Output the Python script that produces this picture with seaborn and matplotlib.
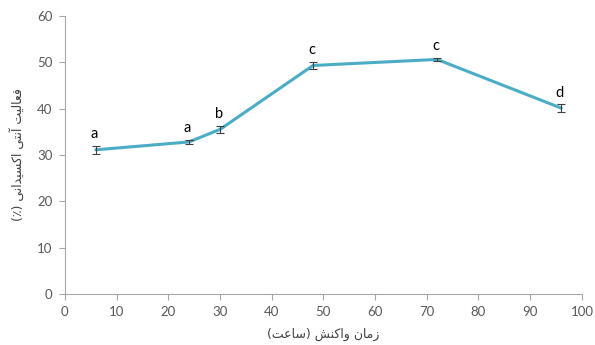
import numpy as np
import pandas as pd
import matplotlib
matplotlib.use('Agg')
import matplotlib.pyplot as plt
import seaborn as sns

# data
hours = [6, 24, 30, 48, 72, 96]
activity = [31.1, 32.8, 35.5, 49.3, 50.6, 40.1]
err = [0.8, 0.4, 0.8, 0.8, 0.4, 0.8]
groups = ['a', 'a', 'b', 'c', 'c', 'd']

xlabel_fa = 'زمان واکنش (ساعت)'
ylabel_fa = 'فعالیت آنتی اکسیدانی (٪)'

# small persian shaper (matplotlib does no arabic shaping / bidi)
forms = {
    'ا': ('\uFE8D', '\uFE8E', None, None),
    'آ': ('\uFE81', '\uFE82', None, None),
    'د': ('\uFEA9', '\uFEAA', None, None),
    'ز': ('\uFEAF', '\uFEB0', None, None),
    'و': ('\uFEED', '\uFEEE', None, None),
    'ت': ('\uFE95', '\uFE96', '\uFE97', '\uFE98'),
    'س': ('\uFEB1', '\uFEB2', '\uFEB3', '\uFEB4'),
    'ش': ('\uFEB5', '\uFEB6', '\uFEB7', '\uFEB8'),
    'ع': ('\uFEC9', '\uFECA', '\uFECB', '\uFECC'),
    'ف': ('\uFED1', '\uFED2', '\uFED3', '\uFED4'),
    'ل': ('\uFEDD', '\uFEDE', '\uFEDF', '\uFEE0'),
    'م': ('\uFEE1', '\uFEE2', '\uFEE3', '\uFEE4'),
    'ن': ('\uFEE5', '\uFEE6', '\uFEE7', '\uFEE8'),
    'ک': ('\uFB8E', '\uFB8F', '\uFB90', '\uFB91'),
    'ی': ('\uFBFC', '\uFBFD', '\uFBFE', '\uFBFF'),
}


def shape_fa(s):
    out = []
    for i, ch in enumerate(s):
        if ch not in forms:
            out.append(ch)
            continue
        prev = s[i - 1] if i > 0 else ''
        nxt = s[i + 1] if i + 1 < len(s) else ''
        join_prev = prev in forms and forms[prev][2] is not None
        join_next = nxt in forms and forms[ch][2] is not None
        iso, fin, ini, med = forms[ch]
        if join_prev and join_next:
            out.append(med)
        elif join_prev:
            out.append(fin)
        elif join_next:
            out.append(ini)
        else:
            out.append(iso)
    vis = ''.join(out)[::-1]
    swap = {'(': ')', ')': '('}
    return ''.join(swap.get(c, c) for c in vis)


sns.set_style('white')
plt.rcParams['font.family'] = ['Lato', 'DejaVu Sans']

fig = plt.figure(figsize=(5.95, 3.45), dpi=100)
ax = fig.add_axes([0.109, 0.148, 0.869, 0.806])

df = pd.DataFrame({'hours': hours, 'activity': activity})
sns.lineplot(data=df, x='hours', y='activity', color='#4BACC6', linewidth=2.2, ax=ax)
ax.errorbar(hours, activity, yerr=err, fmt='none', ecolor='#404040',
            elinewidth=0.8, capsize=3, capthick=0.8, zorder=3)

for x, y, e, g in zip(hours, activity, err, groups):
    ax.annotate(g, (x, y + e), xytext=(-1, 3.5), textcoords='offset points',
                ha='center', va='bottom', fontsize=10.5, color='black')

ax.set_xlim(0, 100)
ax.set_ylim(0, 60)
ax.set_xticks(np.arange(0, 101, 10))
ax.set_yticks(np.arange(0, 61, 10))
ax.tick_params(axis='both', labelsize=9.5, colors='#A6A6A6', direction='out',
               length=4, width=0.8, left=True, bottom=True, pad=5)
ax.tick_params(axis='both', labelcolor='#595959')

for side in ['top', 'right']:
    ax.spines[side].set_visible(False)
for side in ['left', 'bottom']:
    ax.spines[side].set_color('#A6A6A6')
    ax.spines[side].set_linewidth(0.8)

ax.set_xlabel(shape_fa(xlabel_fa), fontsize=9, color='#404040',
              family=['DejaVu Sans'], labelpad=7)
ax.set_ylabel(shape_fa(ylabel_fa), fontsize=9, color='#404040',
              family=['DejaVu Sans'], labelpad=9)

fig.savefig('out.png', dpi=100)
